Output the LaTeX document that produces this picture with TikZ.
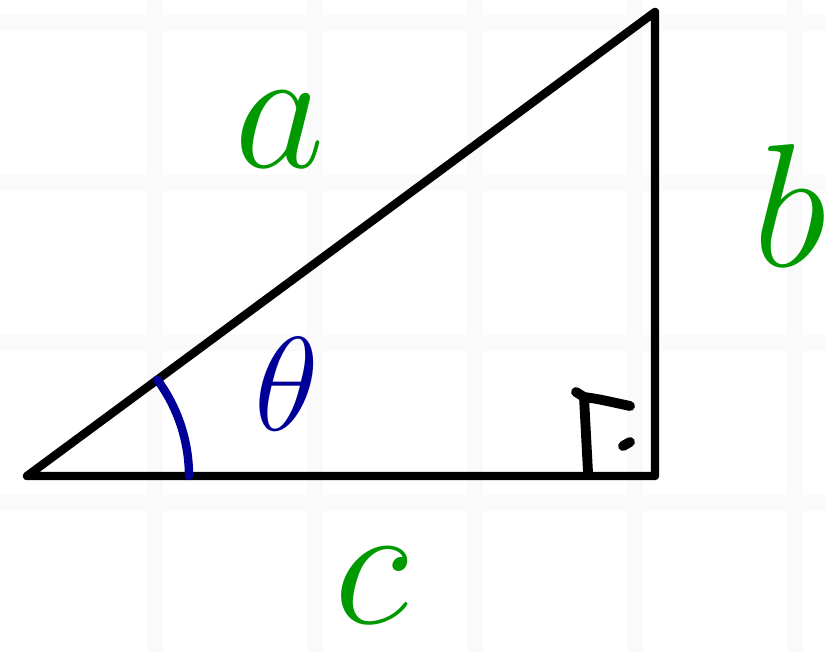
\RequirePackage{fix-cm}
\documentclass[tikz,border=0pt]{standalone}
\usepackage{tikz}
\usetikzlibrary{calc}
\definecolor{SideGreen}{RGB}{0,153,0}
\definecolor{AngleBlue}{RGB}{0,0,153}
\definecolor{GridGray}{RGB}{250,250,250}
\tikzset{
  gridline/.style={draw=GridGray,line width=1.6mm},
  sideline/.style={draw=black,line width=2.4pt,line join=round,line cap=round},
  rightmark/.style={draw=black,line width=2.8pt,line cap=round,line join=round},
  anglearc/.style={draw=AngleBlue,line width=2.4pt,line cap=round},
  sidelabel/.style={text=SideGreen,font=\fontsize{50}{58}\selectfont,inner sep=0pt},
  anglelabel/.style={text=AngleBlue,font=\fontsize{38}{44}\selectfont,inner sep=0pt}
}

\begin{document}
\begin{tikzpicture}
\useasboundingbox (0,0) rectangle (8.25,-6.52);
% faint grid
\foreach \gx in {1.55,3.15,4.75,6.35,7.95}
  \draw[gridline] (\gx,0) -- (\gx,-6.52);
\foreach \gy in {0.23,1.83,3.43,5.03}
  \draw[gridline] (0,-\gy) -- (8.25,-\gy);
% triangle
\coordinate (A) at (0.27,-4.76);
\coordinate (C) at (6.55,-4.76);
\coordinate (B) at (6.55,-0.12);
\draw[sideline] (A) -- (C) -- (B) -- cycle;
% angle at A
\draw[anglearc] ($(A)+(1.62,0)$) arc[start angle=0,end angle=36.45,radius=1.62];
% right angle mark
\coordinate (r1) at (5.88,-4.72);
\coordinate (r2) at (5.84,-3.97);
\coordinate (r3) at (6.30,-4.06);
\draw[rightmark] (r1) -- (r2) -- (5.76,-3.92);
\draw[rightmark] (r2) .. controls (5.98,-3.99) .. (r3);
\draw[rightmark] (6.23,-4.46) -- (6.30,-4.42);
% labels
\node[sidelabel] (la) at (2.80,-1.30) {$a$};
\node[sidelabel] (lb) at (7.90,-2.05) {$b$};
\node[sidelabel] (lc) at (3.72,-5.86) {$c$};
\node[anglelabel] (lt) at (2.87,-3.84) {$\theta$};
\end{tikzpicture}
\end{document}
